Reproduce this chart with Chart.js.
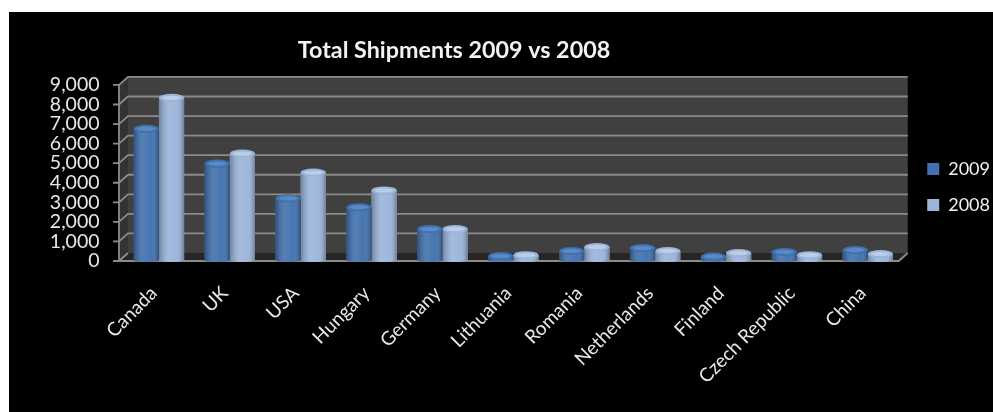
<!DOCTYPE html>
<html>
<head>
<meta charset="utf-8">
<title>Total Shipments 2009 vs 2008</title>
<script src="https://cdn.jsdelivr.net/npm/chart.js@4"></script>
<style>
  html, body { margin: 0; padding: 0; background: #fff; overflow: hidden; }
  #backdrop { position: absolute; left: 9px; top: 12px; right: 0; bottom: 0; background: #000; }
  #shipments { position: absolute; left: 0; top: 0; }
</style>
</head>
<body>
<div id="backdrop"></div>
<canvas id="shipments" width="993" height="412"></canvas>
<script>
const categories = ['Canada', 'UK', 'USA', 'Hungary', 'Germany', 'Lithuania', 'Romania', 'Netherlands', 'Finland', 'Czech Republic', 'China'];
const values2009 = [6760, 4980, 3200, 2745, 1630, 250, 510, 660, 230, 460, 560];
const values2008 = [8340, 5490, 4520, 3610, 1630, 300, 710, 510, 410, 300, 360];

const colors2009 = { body: '#4070ad', top: '#5a8ac4' };
const colors2008 = { body: '#9ab4da', top: '#bccde8' };
const fontName = 'Lato, "Open Sans", sans-serif';

// half of the 3d depth, the bars stand in the middle of the floor
const depthX = 4.5;
const depthY = 4;

const wallPlugin = {
  id: 'wall',
  beforeDatasetsDraw(chart) {
    const { ctx, chartArea, scales } = chart;
    const y = scales.y;
    const fl = chartArea.left - depthX, fr = chartArea.right - depthX;
    const bl = chartArea.left + depthX, br = chartArea.right + depthX;
    const top = y.getPixelForValue(y.max), bottom = y.getPixelForValue(0);
    const dy = depthY * 2;

    ctx.save();
    // back wall
    ctx.fillStyle = '#404040';
    ctx.fillRect(bl, top - dy, br - bl, bottom - top);
    // side wall
    ctx.fillStyle = '#333333';
    ctx.beginPath();
    ctx.moveTo(fl, top);
    ctx.lineTo(bl, top - dy);
    ctx.lineTo(bl, bottom - dy);
    ctx.lineTo(fl, bottom);
    ctx.closePath();
    ctx.fill();
    // floor
    ctx.fillStyle = '#262626';
    ctx.beginPath();
    ctx.moveTo(fl, bottom);
    ctx.lineTo(bl, bottom - dy);
    ctx.lineTo(br, bottom - dy);
    ctx.lineTo(fr, bottom);
    ctx.closePath();
    ctx.fill();
    // grid lines, ticks and the diagonals
    ctx.strokeStyle = '#8c8c84';
    ctx.lineWidth = 1.8;
    y.ticks.forEach(t => {
      const py = y.getPixelForValue(t.value);
      ctx.beginPath();
      ctx.moveTo(fl - 6, py);
      ctx.lineTo(fl, py);
      ctx.lineTo(bl, py - dy);
      if (t.value > 0) ctx.lineTo(br, py - dy);
      ctx.stroke();
    });
    ctx.beginPath();
    ctx.moveTo(fl, top);
    ctx.lineTo(fl, bottom);
    ctx.lineTo(fr, bottom);
    ctx.lineTo(br, bottom - dy);
    ctx.stroke();
    ctx.restore();
  }
};

// turns the flat bars into cylinders
const cylinderPlugin = {
  id: 'cylinder',
  afterDatasetDraw(chart, args) {
    const { ctx } = chart;
    const colors = args.index === 0 ? colors2009 : colors2008;
    args.meta.data.forEach(bar => {
      const x0 = bar.x - bar.width / 2, x1 = bar.x + bar.width / 2;
      const rx = bar.width / 2;
      const g = ctx.createLinearGradient(x0, 0, x1, 0);
      g.addColorStop(0, 'rgba(0,0,0,0.28)');
      g.addColorStop(0.4, 'rgba(255,255,255,0.1)');
      g.addColorStop(0.7, 'rgba(255,255,255,0.04)');
      g.addColorStop(1, 'rgba(0,0,0,0.3)');

      ctx.save();
      ctx.beginPath();
      ctx.moveTo(x0, bar.y);
      ctx.lineTo(x0, bar.base - 1);
      ctx.ellipse(bar.x, bar.base - 1, rx, 2, 0, Math.PI, 0, true);
      ctx.lineTo(x1, bar.y);
      ctx.closePath();
      ctx.fillStyle = colors.body;
      ctx.fill();
      ctx.fillStyle = g;
      ctx.fill();

      ctx.beginPath();
      ctx.ellipse(bar.x, bar.y, rx, 4, 0, 0, Math.PI * 2);
      ctx.fillStyle = colors.body;
      ctx.fill();
      ctx.beginPath();
      ctx.ellipse(bar.x, bar.y, rx - 3, 2.2, 0, 0, Math.PI * 2);
      ctx.fillStyle = colors.top;
      ctx.fill();
      ctx.restore();
    });
  }
};

// title and legend do not sit where the layout would put them
const placementPlugin = {
  id: 'placement',
  afterLayout(chart) {
    chart.titleBlock.right -= 86;
    chart.legend.left += 6;
    chart.legend.right += 6;
    chart.legend.top -= 19;
    chart.legend.bottom -= 19;
  }
};

new Chart(document.getElementById('shipments'), {
  type: 'bar',
  data: {
    labels: categories,
    datasets: [
      { label: '2009', data: values2009, backgroundColor: colors2009.body },
      { label: '2008', data: values2008, backgroundColor: colors2008.body }
    ]
  },
  options: {
    responsive: false,
    animation: false,
    datasets: { bar: { barPercentage: 1, categoryPercentage: 0.71 } },
    layout: { padding: { right: -1 } },
    scales: {
      x: {
        grid: { display: false },
        border: { display: false },
        ticks: {
          autoSkip: false,
          minRotation: 45,
          maxRotation: 45,
          padding: 13,
          labelOffset: -5,
          color: '#e8e8e8',
          font: { family: fontName, size: 19 }
        },
        afterFit(scale) { scale.height = 151; }
      },
      y: {
        min: 0,
        max: 9000,
        grid: { display: false },
        border: { display: false },
        ticks: {
          stepSize: 1000,
          autoSkip: false,
          padding: 16,
          color: '#e8e8e8',
          font: { family: fontName, size: 19.5 }
        },
        afterFit(scale) { scale.width = 123.5; }
      }
    },
    plugins: {
      title: {
        display: true,
        text: 'Total Shipments 2009 vs 2008',
        color: '#f2f2f2',
        font: { family: fontName, size: 23.3, weight: 'bold' },
        padding: { top: 36, bottom: 21 }
      },
      legend: {
        position: 'right',
        labels: {
          boxWidth: 12,
          boxHeight: 12,
          padding: 18,
          color: '#f0f0f0',
          font: { family: fontName, size: 18, lineHeight: 1.55 }
        }
      },
      tooltip: { enabled: false }
    }
  },
  plugins: [wallPlugin, cylinderPlugin, placementPlugin]
});
</script>
</body>
</html>
